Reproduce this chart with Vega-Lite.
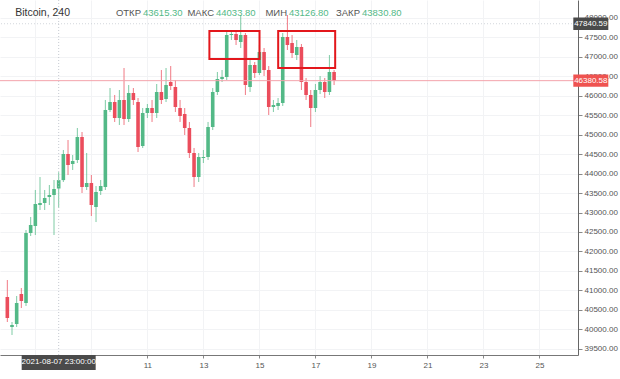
{
  "$schema": "https://vega.github.io/schema/vega-lite/v6.json",
  "width": 578,
  "height": 355,
  "autosize": {"type": "none"},
  "padding": {"left": 0, "top": 0, "right": 42, "bottom": 24},
  "background": "#ffffff",
  "config": {"view": {"stroke": null}, "font": "Liberation Sans", "axis": {"labelOverlap": false}},
  "datasets": {
    "candles": [
      {"t":"2021-08-06T03:00","o":40833,"h":41269,"l":40192,"c":40295},
      {"t":"2021-08-06T07:00","o":40064,"h":40192,"l":39859,"c":40115},
      {"t":"2021-08-06T11:00","o":40141,"h":40859,"l":40064,"c":40679},
      {"t":"2021-08-06T15:00","o":40910,"h":41064,"l":40551,"c":40731},
      {"t":"2021-08-06T19:00","o":40679,"h":42551,"l":40603,"c":42474},
      {"t":"2021-08-06T23:00","o":42474,"h":42885,"l":42397,"c":42679},
      {"t":"2021-08-07T03:00","o":42654,"h":43577,"l":42423,"c":43218},
      {"t":"2021-08-07T07:00","o":43192,"h":43910,"l":43064,"c":43244},
      {"t":"2021-08-07T11:00","o":43244,"h":43577,"l":43064,"c":43372},
      {"t":"2021-08-07T15:00","o":43397,"h":43705,"l":43192,"c":43449},
      {"t":"2021-08-07T19:00","o":43449,"h":43833,"l":42423,"c":43603},
      {"t":"2021-08-07T23:00","o":43615.3,"h":44033.8,"l":43126.8,"c":43830.8},
      {"t":"2021-08-08T03:00","o":43830.8,"h":44603,"l":43782,"c":44500},
      {"t":"2021-08-08T07:00","o":44500,"h":44859,"l":43962,"c":44218},
      {"t":"2021-08-08T11:00","o":44244,"h":44474,"l":44090,"c":44321},
      {"t":"2021-08-08T15:00","o":44346,"h":45167,"l":44269,"c":44936},
      {"t":"2021-08-08T19:00","o":44936,"h":45064,"l":43500,"c":43654},
      {"t":"2021-08-08T23:00","o":43654,"h":44526,"l":43577,"c":43756},
      {"t":"2021-08-09T03:00","o":43756,"h":43962,"l":42910,"c":43192},
      {"t":"2021-08-09T07:00","o":43141,"h":43679,"l":42756,"c":43526},
      {"t":"2021-08-09T11:00","o":43551,"h":43833,"l":43449,"c":43679},
      {"t":"2021-08-09T15:00","o":43654,"h":45885,"l":43577,"c":45628},
      {"t":"2021-08-09T19:00","o":45628,"h":46192,"l":45577,"c":45833},
      {"t":"2021-08-09T23:00","o":45833,"h":46013,"l":45321,"c":45423},
      {"t":"2021-08-10T03:00","o":45423,"h":46141,"l":45244,"c":45885},
      {"t":"2021-08-10T07:00","o":45885,"h":46705,"l":45244,"c":45397},
      {"t":"2021-08-10T11:00","o":45397,"h":46269,"l":45321,"c":46064},
      {"t":"2021-08-10T15:00","o":46064,"h":46192,"l":45756,"c":45885},
      {"t":"2021-08-10T19:00","o":45833,"h":45936,"l":44551,"c":44679},
      {"t":"2021-08-10T23:00","o":44705,"h":45679,"l":44654,"c":45551},
      {"t":"2021-08-11T03:00","o":45551,"h":45782,"l":45423,"c":45679},
      {"t":"2021-08-11T07:00","o":45679,"h":45885,"l":45321,"c":45551},
      {"t":"2021-08-11T11:00","o":45551,"h":46295,"l":45423,"c":46090},
      {"t":"2021-08-11T15:00","o":46090,"h":46654,"l":45782,"c":45885},
      {"t":"2021-08-11T19:00","o":45910,"h":46705,"l":45833,"c":46269},
      {"t":"2021-08-11T23:00","o":46346,"h":46756,"l":46141,"c":46244},
      {"t":"2021-08-12T03:00","o":46218,"h":46397,"l":45577,"c":45705},
      {"t":"2021-08-12T07:00","o":45679,"h":45885,"l":45321,"c":45474},
      {"t":"2021-08-12T11:00","o":45526,"h":45679,"l":44987,"c":45167},
      {"t":"2021-08-12T15:00","o":45167,"h":45321,"l":44397,"c":44526},
      {"t":"2021-08-12T19:00","o":44526,"h":44654,"l":43654,"c":43910},
      {"t":"2021-08-12T23:00","o":43910,"h":44526,"l":43782,"c":44423},
      {"t":"2021-08-13T03:00","o":44397,"h":44603,"l":44269,"c":44423},
      {"t":"2021-08-13T07:00","o":44423,"h":45321,"l":44346,"c":45192},
      {"t":"2021-08-13T11:00","o":45192,"h":46192,"l":45115,"c":46090},
      {"t":"2021-08-13T15:00","o":46090,"h":46603,"l":46013,"c":46423},
      {"t":"2021-08-13T19:00","o":46423,"h":46654,"l":46346,"c":46474},
      {"t":"2021-08-13T23:00","o":46474,"h":47628,"l":46397,"c":47551},
      {"t":"2021-08-14T03:00","o":47551,"h":47679,"l":47423,"c":47577},
      {"t":"2021-08-14T07:00","o":47577,"h":47679,"l":47295,"c":47423},
      {"t":"2021-08-14T11:00","o":47372,"h":48064,"l":47218,"c":47551},
      {"t":"2021-08-14T15:00","o":47551,"h":47603,"l":46013,"c":46269},
      {"t":"2021-08-14T19:00","o":46218,"h":46910,"l":46090,"c":46782},
      {"t":"2021-08-14T23:00","o":46782,"h":46859,"l":46449,"c":46577},
      {"t":"2021-08-15T03:00","o":46577,"h":47295,"l":46526,"c":47115},
      {"t":"2021-08-15T07:00","o":47115,"h":47218,"l":46500,"c":46654},
      {"t":"2021-08-15T11:00","o":46654,"h":46756,"l":45500,"c":45705},
      {"t":"2021-08-15T15:00","o":45705,"h":45885,"l":45577,"c":45756},
      {"t":"2021-08-15T19:00","o":45731,"h":45936,"l":45628,"c":45808},
      {"t":"2021-08-15T23:00","o":45808,"h":47603,"l":45731,"c":47500},
      {"t":"2021-08-16T03:00","o":47500,"h":48064,"l":47167,"c":47295},
      {"t":"2021-08-16T07:00","o":47346,"h":47551,"l":46962,"c":47090},
      {"t":"2021-08-16T11:00","o":47038,"h":47423,"l":46910,"c":47244},
      {"t":"2021-08-16T15:00","o":47244,"h":47321,"l":46141,"c":46346},
      {"t":"2021-08-16T19:00","o":46346,"h":46449,"l":45885,"c":46013},
      {"t":"2021-08-16T23:00","o":46013,"h":46141,"l":45192,"c":45679},
      {"t":"2021-08-17T03:00","o":45679,"h":46295,"l":45577,"c":46141},
      {"t":"2021-08-17T07:00","o":46141,"h":46500,"l":46038,"c":46346},
      {"t":"2021-08-17T11:00","o":46346,"h":46449,"l":45936,"c":46090},
      {"t":"2021-08-17T15:00","o":46090,"h":47038,"l":46013,"c":46603},
      {"t":"2021-08-17T19:00","o":46603,"h":46654,"l":46269,"c":46380.58}
    ],
    "boxes": [
      {"t1":"2021-08-13T08:09","t2":"2021-08-15T03:06","p1":47654,"p2":46936},
      {"t1":"2021-08-15T19:06","t2":"2021-08-17T19:56","p1":47654,"p2":46705}
    ],
    "tags": [
      {"price":46380.58,"label":"46380.58","kind":"last"},
      {"price":47840.59,"label":"47840.59","kind":"cross"}
    ],
    "xtag": [
      {"t":"2021-08-07T23:00","label":"2021-08-07 23:00:00"}
    ],
    "header": [
      {"slot":"title","kind":"title","text":"Bitcoin, 240"},
      {"slot":"ОТКР","kind":"label","text":"ОТКР"},
      {"slot":"ОТКР","kind":"value","text":"43615.30"},
      {"slot":"МАКС","kind":"label","text":"МАКС"},
      {"slot":"МАКС","kind":"value","text":"44033.80"},
      {"slot":"МИН","kind":"label","text":"МИН"},
      {"slot":"МИН","kind":"value","text":"43126.80"},
      {"slot":"ЗАКР","kind":"label","text":"ЗАКР"},
      {"slot":"ЗАКР","kind":"value","text":"43830.80"}
    ]
  },
  "layer": [
    {
      "layer": [
        {
          "data": {"name": "candles"},
          "mark": {"type": "rule", "strokeWidth": 1, "opacity": 0.75},
          "encoding": {
            "x": {
              "field": "t", "type": "temporal", "title": null,
              "scale": {"domain": [{"year":2021,"month":8,"date":6,"hours":1}, {"year":2021,"month":8,"date":26,"hours":7,"minutes":44}]},
              "axis": {
                "values": [
                  {"year":2021,"month":8,"date":7,"hours":3},
                  {"year":2021,"month":8,"date":9,"hours":3},
                  {"year":2021,"month":8,"date":11,"hours":3},
                  {"year":2021,"month":8,"date":13,"hours":3},
                  {"year":2021,"month":8,"date":15,"hours":3},
                  {"year":2021,"month":8,"date":17,"hours":3},
                  {"year":2021,"month":8,"date":19,"hours":3},
                  {"year":2021,"month":8,"date":21,"hours":3},
                  {"year":2021,"month":8,"date":23,"hours":3},
                  {"year":2021,"month":8,"date":25,"hours":3}
                ],
                "tickCount": 20,
                "format": "%-d",
                "labelExpr": "date(datum.value) < 10 ? '' : datum.label",
                "labelFontSize": 8,
                "labelColor": "#555555",
                "labelPadding": 3,
                "labelOverlap": false,
                "tickSize": 3,
                "tickColor": "#888888",
                "domainColor": "#777777",
                "grid": true,
                "gridColor": "#f2f3f5",
                "labelFlush": false
              }
            },
            "y": {
              "field": "l", "type": "quantitative", "title": null,
              "scale": {"domain": [39346, 48449], "nice": false, "zero": false},
              "axis": {
                "orient": "right",
                "values": [39500,40000,40500,41000,41500,42000,42500,43000,43500,44000,44500,45000,45500,46000,46500,47000,47500,48000],
                "tickCount": 30,
                "format": ".2f",
                "labelFontSize": 8,
                "labelColor": "#555555",
                "labelPadding": 2,
                "labelOverlap": false,
                "tickSize": 4,
                "tickColor": "#888888",
                "domainColor": "#666666",
                "grid": true,
                "gridColor": "#f2f3f5",
                "labelFlush": false
              }
            },
            "y2": {"field": "h"},
            "color": {"condition": {"test": "datum.c >= datum.o", "value": "#53b987"}, "value": "#eb4d5c"}
          }
        },
        {
          "data": {"name": "candles"},
          "mark": {"type": "bar", "size": 3.6},
          "encoding": {
            "x": {"field": "t", "type": "temporal", "title": null},
            "y": {"field": "o", "type": "quantitative", "title": null},
            "y2": {"field": "c"},
            "color": {"condition": {"test": "datum.c >= datum.o", "value": "#53b987"}, "value": "#eb4d5c"}
          }
        },
        {
          "data": {"name": "tags"},
          "transform": [{"filter": "datum.kind === 'last'"}],
          "mark": {"type": "rule", "color": "#f3a3ab", "strokeWidth": 1},
          "encoding": {"y": {"field": "price", "type": "quantitative", "title": null}}
        },
        {
          "data": {"name": "tags"},
          "transform": [{"filter": "datum.kind === 'cross'"}],
          "mark": {"type": "rule", "color": "#b8bcc4", "strokeWidth": 1, "strokeDash": [1, 2], "opacity": 0.6},
          "encoding": {"y": {"field": "price", "type": "quantitative", "title": null}}
        },
        {
          "data": {"name": "xtag"},
          "mark": {"type": "rule", "color": "#b8bcc4", "strokeWidth": 1, "strokeDash": [1, 2], "opacity": 0.8},
          "encoding": {"x": {"field": "t", "type": "temporal", "title": null}}
        },
        {
          "data": {"name": "boxes"},
          "mark": {"type": "rect", "fillOpacity": 0, "stroke": "#e3171c", "strokeWidth": 2},
          "encoding": {
            "x": {"field": "t1", "type": "temporal", "title": null},
            "x2": {"field": "t2"},
            "y": {"field": "p1", "type": "quantitative", "title": null},
            "y2": {"field": "p2"}
          }
        },
        {
          "data": {"name": "tags"},
          "mark": {"type": "point", "filled": true, "opacity": 1, "shape": "M-1,-0.353H1V0.353H-1Z", "size": 1225, "strokeWidth": 0},
          "encoding": {
            "x": {"datum": {"year":2021,"month":8,"date":26,"hours":23}, "type": "temporal"},
            "y": {"field": "price", "type": "quantitative", "title": null},
            "color": {"field": "kind", "type": "nominal", "scale": {"domain": ["last", "cross"], "range": ["#ef5350", "#4a4a4a"]}, "legend": null}
          }
        },
        {
          "data": {"name": "tags"},
          "mark": {"type": "text", "color": "#ffffff", "fontSize": 8, "baseline": "middle", "align": "center"},
          "encoding": {
            "x": {"datum": {"year":2021,"month":8,"date":26,"hours":23}, "type": "temporal"},
            "y": {"field": "price", "type": "quantitative", "title": null},
            "text": {"field": "label"}
          }
        },
        {
          "data": {"name": "xtag"},
          "mark": {"type": "point", "filled": true, "opacity": 1, "shape": "M-1,-0.2H1V0.2H-1Z", "size": 5476, "strokeWidth": 0, "color": "#4a4a4a"},
          "encoding": {
            "x": {"field": "t", "type": "temporal", "title": null},
            "y": {"datum": 39154, "type": "quantitative", "title": null}
          }
        },
        {
          "data": {"name": "xtag"},
          "mark": {"type": "text", "color": "#ffffff", "fontSize": 8, "baseline": "middle", "align": "center"},
          "encoding": {
            "x": {"field": "t", "type": "temporal", "title": null},
            "y": {"datum": 39154, "type": "quantitative", "title": null},
            "text": {"field": "label"}
          }
        }
      ]
    },
    {
      "data": {"name": "header"},
      "encoding": {
        "x": {"field": "slot", "type": "nominal", "scale": {"type": "point", "domain": ["title", "ОТКР", "МАКС", "МИН", "ЗАКР"], "range": [69, 361], "padding": 0}, "axis": null},
        "y": {"datum": 48040, "type": "quantitative", "title": null}
      },
      "layer": [
        {
          "transform": [{"filter": "datum.kind === 'title'"}],
          "mark": {"type": "text", "align": "right", "baseline": "alphabetic", "fontSize": 10.5, "color": "#333333", "dx": 1},
          "encoding": {"text": {"field": "text"}}
        },
        {
          "transform": [{"filter": "datum.kind === 'label'"}],
          "mark": {"type": "text", "align": "right", "baseline": "alphabetic", "fontSize": 9.5, "color": "#555555", "dx": -1},
          "encoding": {"text": {"field": "text"}}
        },
        {
          "transform": [{"filter": "datum.kind === 'value'"}],
          "mark": {"type": "text", "align": "left", "baseline": "alphabetic", "fontSize": 9.5, "color": "#53b987", "dx": 1},
          "encoding": {"text": {"field": "text"}}
        }
      ]
    }
  ],
  "resolve": {"scale": {"x": "independent"}}
}
